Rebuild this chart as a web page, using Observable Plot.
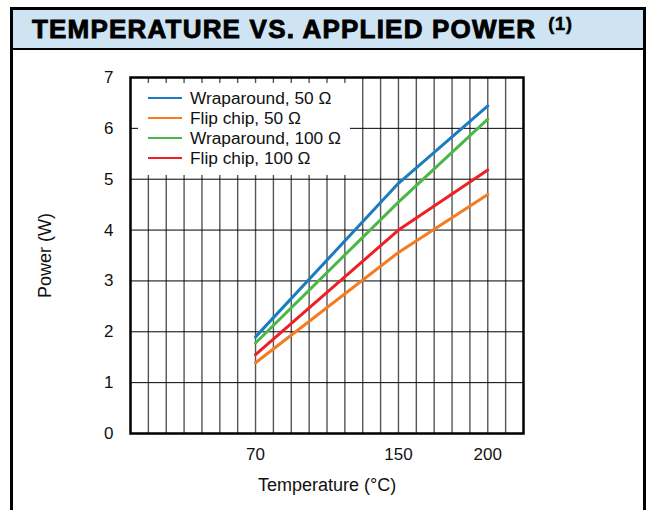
<!DOCTYPE html>
<html>
<head>
<meta charset="utf-8">
<script src="https://cdn.jsdelivr.net/npm/d3@7"></script>
<script src="https://cdn.jsdelivr.net/npm/@observablehq/plot@0.6"></script>
<style>
  html, body { margin: 0; padding: 0; background: #fff; }
  body { width: 647px; height: 510px; position: relative; overflow: hidden; font-family: "Liberation Sans", Arial, sans-serif; }
  #box { position: absolute; left: 10px; top: 7px; width: 630px; height: 520px; border: 3px solid #000; border-bottom: none; }
  #title { height: 38px; background: #cfe4f2; border-bottom: 2px solid #000; position: relative; }
  #title span.t { position: absolute; left: 19px; top: 4px; font-size: 26px; font-weight: bold; color: #000; -webkit-text-stroke: 0.9px #000; letter-spacing: 1.2px; white-space: nowrap; }
  #title span.s { font-size: 18px; position: relative; top: -8px; margin-left: 12px; letter-spacing: 0.8px; -webkit-text-stroke: 0.5px #000; }
  #chart { position: absolute; left: 0; top: 50px; }
  #legend { position: absolute; left: 138px; top: 83px; width: 212px; height: 92px; background: #fff; }
  .row { position: absolute; left: 0; height: 20px; width: 212px; }
  .sw { position: absolute; left: 10px; width: 34px; height: 0; border-top: 2.5px solid; top: 9px; }
  .lab { position: absolute; left: 52px; top: 0; font-size: 17.3px; line-height: 20px; color: #111; white-space: nowrap; }
</style>
</head>
<body>
<div id="box"><div id="title"><span class="t">TEMPERATURE VS. APPLIED POWER<span class="s">(1)</span></span></div></div>
<div id="chart"></div>
<div id="legend"></div>
<script>
// Data
const temperatures = [70, 150, 200];
const wraparound50 = [1.90, 4.92, 6.44];
const flipChip50 = [1.39, 3.56, 4.70];
const wraparound100 = [1.78, 4.55, 6.18];
const flipChip100 = [1.55, 4.00, 5.18];

const seriesNames = ["Wraparound, 50 Ω", "Flip chip, 50 Ω", "Wraparound, 100 Ω", "Flip chip, 100 Ω"];
const seriesColors = ["#1b7dc1", "#f47b20", "#4ab847", "#ee2024"];
const seriesValues = [wraparound50, flipChip50, wraparound100, flipChip100];

const xTickLabels = [70, 150, 200];
const yTickLabels = [0, 1, 2, 3, 4, 5, 6, 7];
const xGridValues = d3.range(10, 220, 10);
const yGridValues = [1, 2, 3, 4, 5, 6];

const rows = [];
seriesNames.forEach((name, i) => {
  temperatures.forEach((t, j) => rows.push({series: name, temp: t, power: seriesValues[i][j]}));
});

const plot = Plot.plot({
  width: 647,
  height: 460,
  marginLeft: 130,
  marginRight: 124,
  marginTop: 27,
  marginBottom: 77,
  style: {fontFamily: "Liberation Sans, Arial, sans-serif", color: "#111", background: "transparent"},
  x: {domain: [0, 220]},
  y: {domain: [0, 7]},
  color: {domain: seriesNames, range: seriesColors},
  marks: [
    Plot.ruleX(xGridValues, {stroke: "#555", strokeWidth: 1.4}),
    Plot.ruleY(yGridValues, {stroke: "#000", strokeWidth: 1}),
    Plot.line(rows, {x: "temp", y: "power", z: "series", stroke: "series", strokeWidth: 3}),
    Plot.frame({stroke: "#000", strokeWidth: 2.5}),
    Plot.axisX({ticks: xTickLabels, tickFormat: d3.format("d"), tickSize: 0, tickPadding: 14, fontSize: 17, label: "Temperature (°C)", labelAnchor: "center", labelOffset: 57, labelArrow: false}),
    Plot.axisY({ticks: yTickLabels, tickFormat: d3.format("d"), tickSize: 0, tickPadding: 17, fontSize: 17, label: "Power (W)", labelAnchor: "center", labelOffset: 92, labelArrow: false})
  ]
});
plot.querySelectorAll("[aria-label='x-axis label'] text, [aria-label='y-axis label'] text").forEach(t => t.setAttribute("font-size", "18"));
document.getElementById("chart").appendChild(plot);

const legend = document.getElementById("legend");
seriesNames.forEach((name, i) => {
  const r = document.createElement("div");
  r.className = "row";
  r.style.top = (5 + i * 19.9) + "px";
  r.innerHTML = `<div class="sw" style="border-color:${seriesColors[i]}"></div><div class="lab">${name}</div>`;
  legend.appendChild(r);
});
</script>
</body>
</html>
